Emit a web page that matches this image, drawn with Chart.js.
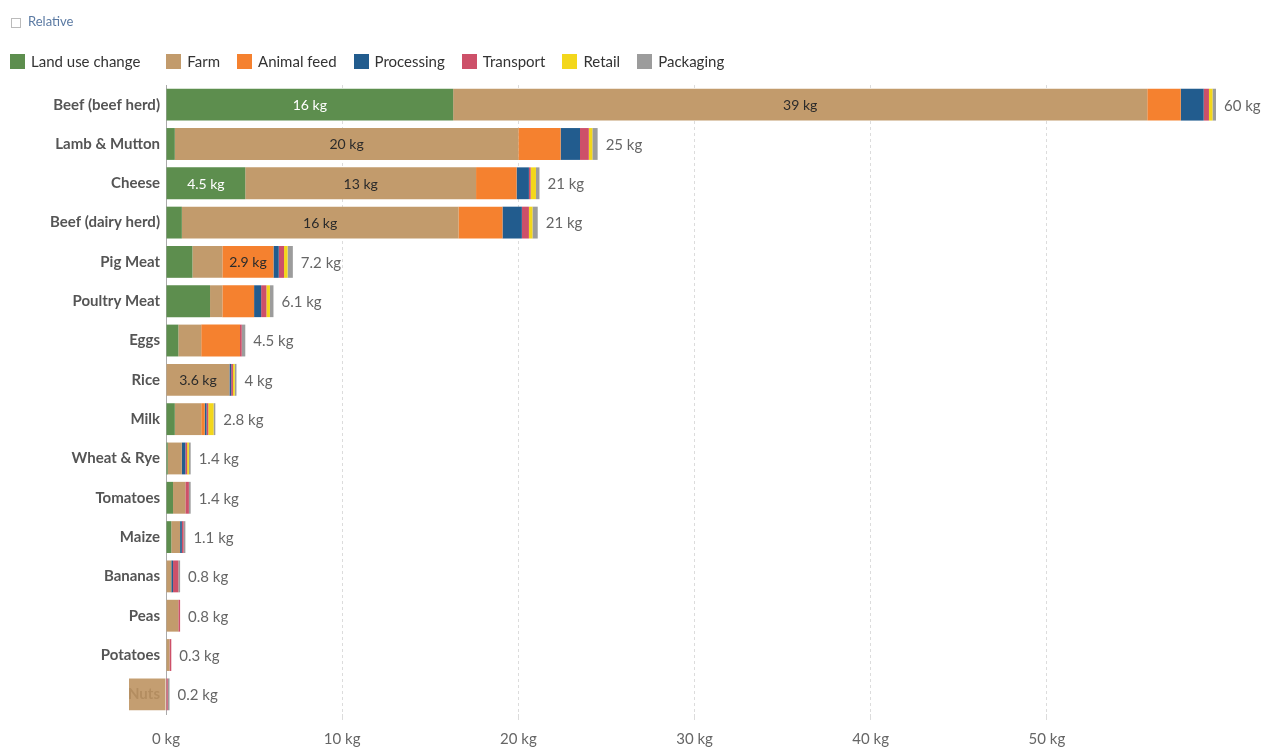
<!DOCTYPE html>
<html>
<head>
<meta charset="utf-8">
<script src="https://cdn.jsdelivr.net/npm/chart.js@4/dist/chart.umd.min.js"></script>
<style>
  body { margin: 0; background: #fff; font-family: Lato, "Noto Sans", sans-serif; }
  #wrap { position: relative; width: 1261px; height: 747px; }
  #chartBox { position: absolute; left: 0; top: 0; width: 1261px; height: 747px; }
  #relative { position: absolute; left: 11px; top: 13px; font-size: 13px; color: #5b7aa3; display: flex; align-items: center; }
  #relative span.box { width: 8px; height: 8px; border: 1px solid #bbb; margin-right: 7px; margin-top: 3px; }
  #legend { position: absolute; left: 10px; top: 52px; display: flex; font-size: 15px; color: #333; }
  #legend .item { display: flex; align-items: center; margin-right: 17px; }
  #legend .item:first-child { margin-right: 26px; }
  #legend .sw { width: 15px; height: 15px; margin-right: 6px; }
</style>
</head>
<body>
<div id="wrap">
  <div id="chartBox"><canvas id="barChart"></canvas></div>
  <div id="relative"><span class="box"></span>Relative</div>
  <div id="legend"></div>
</div>
<script>
const categories = ["Beef (beef herd)", "Lamb & Mutton", "Cheese", "Beef (dairy herd)", "Pig Meat", "Poultry Meat", "Eggs", "Rice", "Milk", "Wheat & Rye", "Tomatoes", "Maize", "Bananas", "Peas", "Potatoes", "Nuts"];

const landUse    = [16.3, 0.5, 4.5, 0.9, 1.5, 2.5, 0.7, 0,   0.5, 0.1, 0.4, 0.3, 0,   0,   0,   0];
const farm       = [39.4, 19.5, 13.1, 15.7, 1.7, 0.7, 1.3, 3.6, 1.5, 0.8, 0.7, 0.5, 0.3, 0.7, 0.2, -2.1];
const animalFeed = [1.9, 2.4, 2.3, 2.5, 2.9, 1.8, 2.2, 0,   0.2, 0,   0,   0,   0,   0,   0,   0];
const processing = [1.3, 1.1, 0.7, 1.1, 0.3, 0.4, 0,   0.1, 0.1, 0.2, 0,   0.1, 0.1, 0,   0,   0];
const transport  = [0.3, 0.5, 0.1, 0.4, 0.3, 0.3, 0.1, 0.1, 0.1, 0.1, 0.2, 0.1, 0.3, 0.1, 0.1, 0.1];
const retail     = [0.2, 0.2, 0.3, 0.2, 0.2, 0.2, 0,   0.1, 0.3, 0.1, 0,   0,   0,   0,   0,   0];
const packaging  = [0.2, 0.3, 0.2, 0.3, 0.3, 0.2, 0.2, 0.1, 0.1, 0.1, 0.1, 0.1, 0.1, 0,   0,   0.1];
const totals     = [59.6, 24.5, 21.2, 21.1, 7.2, 6.1, 4.5, 4.0, 2.8, 1.4, 1.4, 1.1, 0.8, 0.8, 0.3, 0.2];

const xTicks = [0, 10, 20, 30, 40, 50];

const series = [
  { label: "Land use change", data: landUse, color: "#5d8e4e" },
  { label: "Farm", data: farm, color: "#c29b6c" },
  { label: "Animal feed", data: animalFeed, color: "#f5812f" },
  { label: "Processing", data: processing, color: "#225c8e" },
  { label: "Transport", data: transport, color: "#cd5069" },
  { label: "Retail", data: retail, color: "#f3d71b" },
  { label: "Packaging", data: packaging, color: "#9c9c9c" }
];

function fmt(v) {
  if (Math.abs(v) >= 10) return Math.round(v) + " kg";
  return (Math.round(v * 10) / 10).toString() + " kg";
}

// legend in html
const legend = document.getElementById("legend");
series.forEach(s => {
  const item = document.createElement("div");
  item.className = "item";
  item.innerHTML = '<span class="sw" style="background:' + s.color + '"></span>' + s.label;
  legend.appendChild(item);
});

// value labels inside the segments + totals at the end
const barLabels = {
  id: "barLabels",
  afterDatasetsDraw(chart) {
    const ctx = chart.ctx;
    ctx.save();
    ctx.textBaseline = "middle";
    ctx.font = "14px Lato";
    ctx.textAlign = "center";
    chart.data.datasets.forEach((ds, di) => {
      const meta = chart.getDatasetMeta(di);
      meta.data.forEach((bar, i) => {
        const v = ds.data[i];
        if (!v) return;
        const w = Math.abs(bar.x - bar.base);
        const txt = fmt(v);
        if (w < ctx.measureText(txt).width + 12) return;
        ctx.fillStyle = di === 0 ? "#ffffff" : "#2b2b2b";
        ctx.fillText(txt, (bar.x + bar.base) / 2, bar.y + 1);
      });
    });
    ctx.font = "15px Lato";
    ctx.textAlign = "left";
    ctx.fillStyle = "#666";
    totals.forEach((t, i) => {
      let end = chart.scales.x.getPixelForValue(0);
      chart.data.datasets.forEach((ds, di) => {
        const bar = chart.getDatasetMeta(di).data[i];
        if (ds.data[i] > 0) end = Math.max(end, bar.x);
      });
      const y = chart.getDatasetMeta(0).data[i].y;
      ctx.fillText(fmt(t), end + 8, y + 1);
    });
    ctx.restore();
  }
};

const ctxBar = document.getElementById("barChart").getContext("2d");
new Chart(ctxBar, {
  type: "bar",
  data: {
    labels: categories,
    datasets: series.map(s => ({
      label: s.label,
      data: s.data,
      // negative part (Nuts) is drawn over its label, a bit see-through
      backgroundColor: c => (c.raw < 0 ? "rgba(190,148,98,0.9)" : s.color),
      borderWidth: 0,
      clip: false,
      barPercentage: 0.81,
      categoryPercentage: 1
    }))
  },
  options: {
    indexAxis: "y",
    responsive: true,
    maintainAspectRatio: false,
    animation: false,
    layout: { padding: { top: 85, right: 45, bottom: 0, left: 0 } },
    plugins: {
      legend: { display: false },
      tooltip: { enabled: false }
    },
    scales: {
      x: {
        stacked: true,
        min: 0,
        max: 59.6,
        afterFit: s => { s.height = 33; },
        afterBuildTicks: s => { s.ticks = xTicks.map(v => ({ value: v })); },
        ticks: {
          includeBounds: false,
          padding: 10,
          color: "#666",
          font: { family: "Lato", size: 15 },
          callback: v => v + " kg"
        },
        grid: {
          color: c => (c.tick && c.tick.value === 0 ? "rgba(0,0,0,0)" : "#dcdcdc"),
          drawTicks: true,
          tickLength: 6
        },
        border: { display: false, dash: [3, 3] }
      },
      y: {
        stacked: true,
        afterFit: s => { s.width = 166; },
        ticks: {
          padding: 6,
          color: "#555",
          font: { family: "Lato", size: 15, weight: "bold" }
        },
        grid: { display: false, drawTicks: false },
        border: { display: true, color: "#aaa", width: 1 }
      }
    }
  },
  plugins: [barLabels]
});
</script>
</body>
</html>
